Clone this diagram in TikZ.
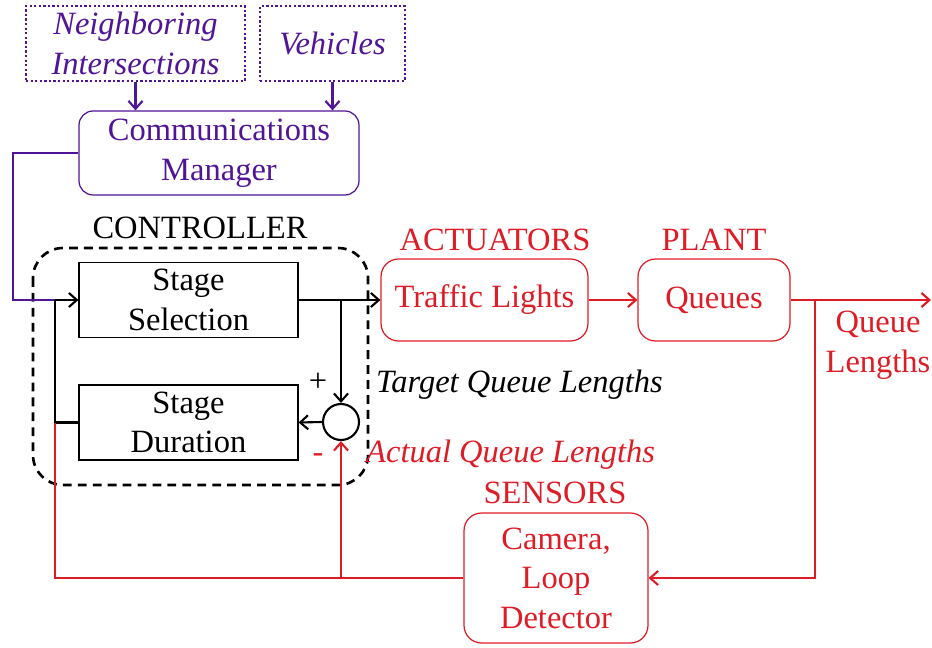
\documentclass[tikz,border=0pt]{standalone}
\usepackage{fontspec}
\setmainfont{Liberation Serif}
\usetikzlibrary{arrows.meta}

\definecolor{commpurple}{RGB}{80,20,150}
\definecolor{loopred}{RGB}{222,28,38}

\tikzset{
  srcbox/.style={draw=commpurple, text=commpurple, line width=0.6pt, dash pattern=on 1.3pt off 1.3pt,
    align=center, minimum height=1.5cm, font=\fontsize{18.5}{22.5}\selectfont\itshape},
  commbox/.style={draw=commpurple, text=commpurple, line width=0.7pt, rounded corners=8pt, align=center},
  ctrlbox/.style={draw, line width=0.7pt, align=center, minimum width=4.38cm, minimum height=1.5cm},
  redbox/.style={draw=loopred, text=loopred, line width=0.7pt, rounded corners=10pt, align=center},
  redlabel/.style={text=loopred},
  sig/.style={line width=1.2pt},
  redsig/.style={line width=1.2pt, draw=loopred},
  purplesig/.style={line width=1.2pt, draw=commpurple}
}

\begin{document}
\begin{tikzpicture}[x=0.02cm, y=-0.02cm, font=\fontsize{18.5}{22.5}\selectfont,
  >={Straight Barb[length=4.5pt, width=8pt]}]
  \useasboundingbox (0,0) rectangle (932,648);

  % Fuentes de informacion
  \node[srcbox, minimum width=4.38cm] (neigh) at (135.5,43.5) {Neighboring\\Intersections};
  \node[srcbox, minimum width=2.9cm] (veh) at (332.5,43.5) {Vehicles};
  \node[commbox, minimum width=5.6cm, minimum height=1.68cm] (comm) at (219,153) {Communications\\Manager};

  % Controlador
  \node (ctrllabel) at (200,228) {CONTROLLER};
  \draw[line width=1.5pt, dash pattern=on 5pt off 3.5pt, rounded corners=0.6cm] (33,248) rectangle (368,485);
  \node[ctrlbox] (sel) at (188.5,300) {Stage\\Selection};
  \node[ctrlbox] (dur) at (188.5,422.5) {Stage\\Duration};
  \node[draw, circle, line width=1.2pt, minimum size=0.72cm, inner sep=0pt] (sum) at (341,422) {};
  \node (plus) at (318,382) {+};
  \node[redlabel] (minus) at (318,458) {-};
  \node[anchor=west, font=\fontsize{18.5}{22.5}\selectfont\itshape] (target) at (370,385) {Target Queue Lengths};
  \node[anchor=west, redlabel, font=\fontsize{18.5}{22.5}\selectfont\itshape] (actual) at (360,455) {Actual Queue Lengths};

  % Actuadores, planta y sensores
  \node[redlabel] (actlabel) at (495,240) {ACTUATORS};
  \node[redbox, minimum width=4.14cm, minimum height=1.64cm] (lights) at (484.5,300) {Traffic Lights};
  \node[redlabel] (plantlabel) at (714,240) {PLANT};
  \node[redbox, minimum width=3.04cm, minimum height=1.64cm] (queues) at (714,300) {Queues};
  \node[redlabel, align=center] (qlen) at (878,345) {Queue\\Lengths};
  \node[redlabel] (senslabel) at (555,493) {SENSORS};
  \node[redbox, minimum width=3.68cm, minimum height=2.6cm] (sensor) at (556,578) {Camera,\\Loop\\Detector};

  % Puntos de union
  \coordinate (junc) at (55,300);
  \coordinate (fbl) at (55,578);
  \coordinate (tap) at (815,300);
  \coordinate (out) at (931,300);

  % Conexiones moradas
  \draw[purplesig, ->] (neigh.south) -- (neigh.south |- comm.north);
  \draw[purplesig, ->] (veh.south) -- (veh.south |- comm.north);
  \draw[purplesig] (comm.west) -| (13,300) -- (junc);

  % Conexiones negras
  \draw[sig, ->] (junc) -- (sel.west);
  \draw[sig] (junc) |- (dur.west);
  \draw[sig, ->] (sel.east) -- (lights.west);
  \draw[sig, ->] (sum |- sel.east) -- (sum.north);
  \draw[sig, ->] (sum.west) -- (dur.east);

  % Conexiones rojas
  \draw[redsig, ->] (lights.east) -- (queues.west);
  \draw[redsig, ->] (queues.east) -- (out);
  \draw[redsig, ->] (tap) |- (sensor.east);
  \draw[redsig] (sensor.west) -- (fbl) -- (junc |- dur.west);
  \draw[redsig, ->] (sum |- sensor.west) -- (sum.south);

\end{tikzpicture}
\end{document}
